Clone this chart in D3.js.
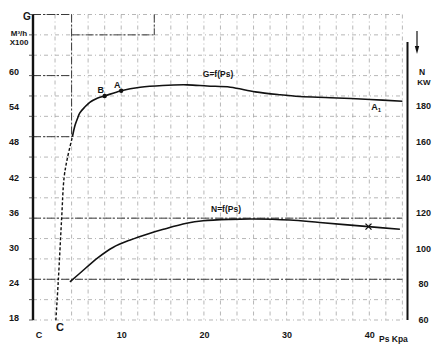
<!DOCTYPE html>
<html>
<head>
<meta charset="utf-8">
<script src="https://cdn.jsdelivr.net/npm/d3@7"></script>
<style>
  html, body { margin: 0; padding: 0; background: #fff; }
  svg { display: block; }
  text { font-family: "Liberation Sans Narrow", "Liberation Sans", Arial, sans-serif; fill: #161616; font-weight: bold; }
</style>
</head>
<body>
<div id="chart"></div>
<script>
// Fan curves: flow G (M3/h x100) and power N (kW) against static pressure Ps (kPa)

const flowTicks = [18, 24, 30, 36, 42, 48, 54, 60];
const powerTicks = [60, 80, 100, 120, 140, 160, 180];
const psTicks = [0, 10, 20, 30, 40];
const psTickLabels = ['C', '10', '20', '30', '40'];

// G = f(Ps), solid curve
const gPs   = [4.1, 4.4, 4.7, 5.0, 5.6, 6.2, 7.1, 8.0, 10.0, 12.3, 15.0, 18.0, 20.4, 23.2, 26.2, 29.2, 31.6, 35.3, 40.1, 44.0];
const gFlow = [48.9, 50.8, 52.0, 53.0, 54.0, 54.8, 55.5, 55.9, 56.8, 57.4, 57.7, 57.8, 57.6, 57.4, 56.6, 56.1, 55.8, 55.6, 55.3, 55.0];

// dashed line from C up to the start of G
const cPs   = [2.1, 2.4, 2.8, 3.1, 3.5, 4.1];
const cFlow = [17.5, 24.4, 35.0, 42.0, 45.3, 48.9];

// N = f(Ps)
const nPs    = [3.8, 5.0, 7.2, 9.0, 11.1, 13.5, 15.1, 17.9, 19.9, 23.2, 25.9, 30.4, 34.0, 39.9, 43.7];
const nPower = [81.2, 86.0, 94.8, 100.5, 104.7, 108.5, 110.7, 114.1, 115.5, 116.3, 116.5, 115.9, 114.5, 112.2, 110.7];

// marked points
const pointLabels = ['B', 'A'];
const pointPs     = [8.0, 10.0];
const pointFlow   = [55.9, 56.8];
const a1Ps = 40.1, a1Flow = 55.3;
const crossPs = 39.9, crossPower = 112.2;

const W = 439, H = 353;
const axisL = 33, axisR = 407.5;

const svg = d3.select('#chart').append('svg')
    .attr('width', W).attr('height', H);

const x = d3.scaleLinear().domain([0, 44]).range([38.5, 402.4]);
const yG = d3.scaleLinear().domain([18, 60]).range([317.3, 72]);
const yN = d3.scaleLinear().domain([60, 180]).range([319.5, 106]);
// graph paper rows, not tied to the value ticks
const row = d3.scaleLinear().domain([0, 15]).range([14.5, 320]);

// Grid
const grid = svg.append('g')
    .attr('stroke', '#a4a4a4').attr('stroke-width', 0.8)
    .attr('stroke-dasharray', '4,3,1,3');

grid.selectAll('.vg').data(d3.range(2, 45, 2)).enter().append('line')
    .attr('x1', d => x(d)).attr('x2', d => x(d))
    .attr('y1', row(0)).attr('y2', row(15));

grid.selectAll('.hg').data(d3.range(0, 16)).enter().append('line')
    .attr('x1', axisL).attr('x2', x(44))
    .attr('y1', d => row(d)).attr('y2', d => row(d));

// darker graph paper segments
const strong = svg.append('g')
    .attr('stroke', '#3a3a3a').attr('stroke-width', 1)
    .attr('stroke-dasharray', '8,2,2,2').attr('fill', 'none');
[[0, axisL, x(4)], [1, x(4), x(14)], [3, axisL, x(4)], [6, axisL, x(4)],
 [10, axisL, x(44)], [13, axisL, x(44)]].forEach(s => {
    strong.append('line').attr('x1', s[1]).attr('x2', s[2])
        .attr('y1', row(s[0])).attr('y2', row(s[0]));
});
strong.append('line').attr('x1', x(4)).attr('x2', x(4)).attr('y1', row(0)).attr('y2', row(6));
strong.append('line').attr('x1', x(14)).attr('x2', x(14)).attr('y1', row(0)).attr('y2', row(1));

// Left axis
svg.append('line').attr('x1', axisL).attr('x2', axisL)
    .attr('y1', row(0)).attr('y2', row(15))
    .attr('stroke', '#111').attr('stroke-width', 2.4);
svg.selectAll('.lt').data(d3.range(0, 16)).enter().append('line')
    .attr('x1', axisL - 4).attr('x2', axisL)
    .attr('y1', d => row(d)).attr('y2', d => row(d))
    .attr('stroke', '#333').attr('stroke-width', 0.8);

svg.append('g')
    .attr('transform', `translate(${axisL},0)`)
    .call(d3.axisLeft(yG).tickValues(flowTicks).tickSize(0))
    .call(g => g.select('.domain').remove())
    .selectAll('text')
    .attr('x', -19).attr('text-anchor', 'middle')
    .attr('font-size', '9px').attr('fill', '#161616')
    .attr('font-family', null);

// Right axis
svg.append('line').attr('x1', axisR).attr('x2', axisR)
    .attr('y1', 42).attr('y2', row(15))
    .attr('stroke', '#111').attr('stroke-width', 2);

svg.append('g')
    .attr('transform', `translate(${axisR},0)`)
    .call(d3.axisRight(yN).tickValues(powerTicks).tickSize(0))
    .call(g => g.select('.domain').remove())
    .selectAll('text')
    .attr('x', 16).attr('text-anchor', 'middle')
    .attr('font-size', '9px').attr('fill', '#161616')
    .attr('font-family', null);

// Bottom tick labels (no axis line)
svg.append('g')
    .attr('transform', `translate(0,${row(15)})`)
    .call(d3.axisBottom(x).tickValues(psTicks).tickFormat((d, i) => psTickLabels[i]).tickSize(0).tickPadding(12))
    .call(g => g.select('.domain').remove())
    .selectAll('text')
    .attr('font-size', '9px').attr('fill', '#161616')
    .attr('font-family', null);

// Axis titles
const lab = (t, px, py, size, anchor) => svg.append('text')
    .attr('x', px).attr('y', py).attr('font-size', size)
    .attr('text-anchor', anchor || 'middle').text(t);

lab('G', 27, 20, '10px');
lab('M\u00b3/h', 19, 36, '8px');
lab('X100', 19, 45, '8px');
lab('N', 422, 75, '8.5px');
lab('KW', 424, 85, '8px');
lab('Ps  Kpa', 379, 342, '8.5px', 'start');

// arrow beside right axis
svg.append('line').attr('x1', 417).attr('x2', 417).attr('y1', 31).attr('y2', 50)
    .attr('stroke', '#111').attr('stroke-width', 1.2);
svg.append('path').attr('d', 'M414.8,46 L417,54 L419.2,46 Z').attr('fill', '#111');

// Curves
const lineG = d3.line().x(d => x(d[0])).y(d => yG(d[1])).curve(d3.curveCatmullRom.alpha(0.5));
const lineN = d3.line().x(d => x(d[0])).y(d => yN(d[1])).curve(d3.curveCatmullRom.alpha(0.5));

svg.append('path')
    .attr('d', lineG(cPs.map((p, i) => [p, cFlow[i]])))
    .attr('fill', 'none').attr('stroke', '#111').attr('stroke-width', 1.4)
    .attr('stroke-dasharray', '3,2');

svg.append('path')
    .attr('d', lineG(gPs.map((p, i) => [p, gFlow[i]])))
    .attr('fill', 'none').attr('stroke', '#111').attr('stroke-width', 1.6);

svg.append('path')
    .attr('d', lineN(nPs.map((p, i) => [p, nPower[i]])))
    .attr('fill', 'none').attr('stroke', '#111').attr('stroke-width', 1.6);

// Points B, A
pointLabels.forEach((t, i) => {
    svg.append('circle').attr('cx', x(pointPs[i])).attr('cy', yG(pointFlow[i]))
        .attr('r', 2.2).attr('fill', '#111');
    lab(t, x(pointPs[i]) - 4, yG(pointFlow[i]) - 3, '9px');
});

// A1
const a1 = svg.append('text').attr('x', x(a1Ps) + 1).attr('y', yG(a1Flow) + 11)
    .attr('font-size', '9px');
a1.append('tspan').text('A');
a1.append('tspan').attr('font-size', '6px').attr('dy', 2).text('1');

// cross on N curve
const cx = x(crossPs), cy = yN(crossPower);
svg.append('path')
    .attr('d', `M${cx - 3},${cy - 3}L${cx + 3},${cy + 3}M${cx - 3},${cy + 3}L${cx + 3},${cy - 3}`)
    .attr('stroke', '#111').attr('stroke-width', 1.3);

// Curve names and point C
lab('G=f(Ps)', 218, 77, '8.5px');
lab('N=f(Ps)', 226, 212, '8.5px');
lab('C', 60, 331, '11px');
</script>
</body>
</html>
